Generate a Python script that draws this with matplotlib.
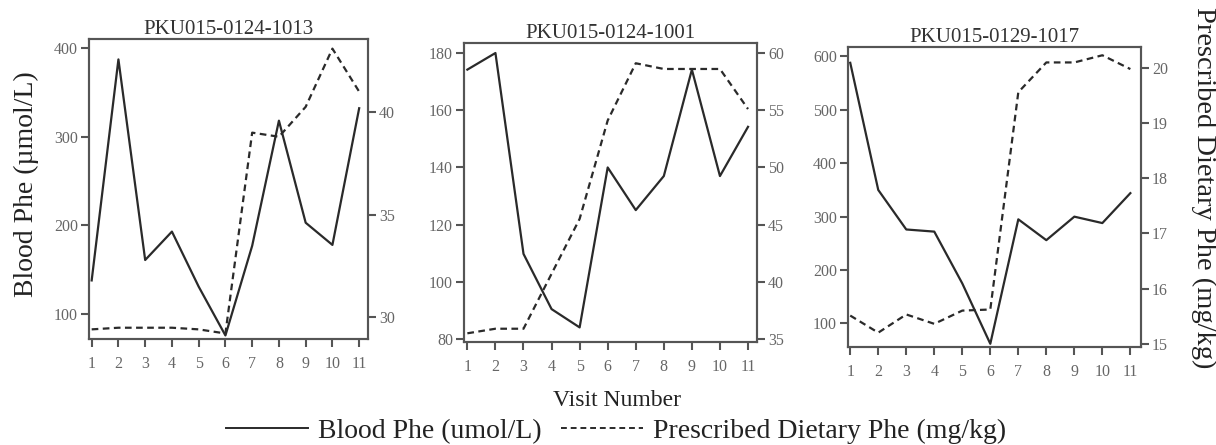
import matplotlib
matplotlib.use("Agg")
import matplotlib.pyplot as plt
from matplotlib.lines import Line2D

plt.rcParams["font.family"] = ["Liberation Serif", "DejaVu Serif"]

visits = list(range(1, 12))

titles = ["PKU015-0124-1013", "PKU015-0124-1001", "PKU015-0129-1017"]

blood_1013 = [138, 387, 161, 193, 131, 76, 177, 318, 203, 178, 332]
diet_1013 = [29.4, 29.48, 29.48, 29.48, 29.4, 29.2, 39.0, 38.8, 40.26, 43.1, 41.0]

blood_1001 = [174.2, 180, 109.8, 90.5, 84.1, 140, 125.1, 137, 174.2, 137, 154.2]
diet_1001 = [35.5, 35.9, 35.9, 40.7, 45.5, 54.1, 59.1, 58.6, 58.6, 58.6, 55.1]

blood_1017 = [588, 350, 276, 272, 175, 62, 295, 256, 300, 288, 344]
diet_1017 = [15.51, 15.2, 15.53, 15.36, 15.6, 15.62, 19.56, 20.1, 20.1, 20.23, 19.98]

left_ticks = [[100, 200, 300, 400], [80, 100, 120, 140, 160, 180], [100, 200, 300, 400, 500, 600]]
right_ticks = [[30, 35, 40], [35, 40, 45, 50, 55, 60], [15, 16, 17, 18, 19, 20]]

W, H = 1216, 445
fig = plt.figure(figsize=(W / 100, H / 100), dpi=100)

# panel boxes in pixels: left, right, top, bottom
boxes = [(89, 368, 39, 339), (464, 757, 43, 342), (848, 1141, 47, 347)]
xlims = [(0.9, 11.33), (0.88, 11.32), (0.92, 11.38)]
ylims_left = [(72, 410), (79, 183.5), (56, 617.6)]
ylims_right = [(28.93, 43.57), (34.74, 60.87), (14.94, 20.38)]

blood = [blood_1013, blood_1001, blood_1017]
diet = [diet_1013, diet_1001, diet_1017]

line_col = "#2a2a2a"
spine_col = "#555555"
tick_col = "#666666"

for i in range(3):
    l, r, t, b = boxes[i]
    ax = fig.add_axes([l / W, 1 - b / H, (r - l) / W, (b - t) / H])
    ax2 = ax.twinx()

    ax.plot(visits, blood[i], color=line_col, lw=1.6)
    ax2.plot(visits, diet[i], color=line_col, lw=1.6, ls=(0, (3, 2)))

    ax.set_xlim(*xlims[i])
    ax.set_ylim(*ylims_left[i])
    ax2.set_ylim(*ylims_right[i])
    ax.set_xticks(visits)
    ax.set_yticks(left_ticks[i])
    ax2.set_yticks(right_ticks[i])
    ax.set_title(titles[i], fontsize=15, color="#333333", pad=3)

    for a in (ax, ax2):
        for s in a.spines.values():
            s.set_color(spine_col)
            s.set_linewidth(1.5)
        a.tick_params(colors=spine_col, labelcolor=tick_col, labelsize=11.5,
                      length=6, width=1.5, pad=2)
    ax.tick_params(axis="x", pad=6)

fig.text(26 / W, 1 - 184 / H, "Blood Phe (\u00b5mol/L)", rotation=90,
         ha="center", va="center", fontsize=20, color="#222222")
fig.text(1204 / W, 1 - 188 / H, "Prescribed Dietary Phe (mg/kg)", rotation=270,
         ha="center", va="center", fontsize=20.5, color="#222222")
fig.text(617 / W, 1 - 400 / H, "Visit Number", ha="center", va="center",
         fontsize=17, color="#222222")

handles = [Line2D([], [], color=line_col, lw=1.4),
           Line2D([], [], color=line_col, lw=1.4, ls=(0, (3, 2)))]
fig.legend(handles, ["Blood Phe (umol/L)", "Prescribed Dietary Phe (mg/kg)"],
           loc="center", bbox_to_anchor=(616 / W, 1 - 431 / H), ncol=2,
           frameon=False, fontsize=20, handlelength=2.95, columnspacing=0.72,
           handletextpad=0.36, borderpad=0, labelcolor="#222222")

fig.savefig("out.png", dpi=100, facecolor="white")
